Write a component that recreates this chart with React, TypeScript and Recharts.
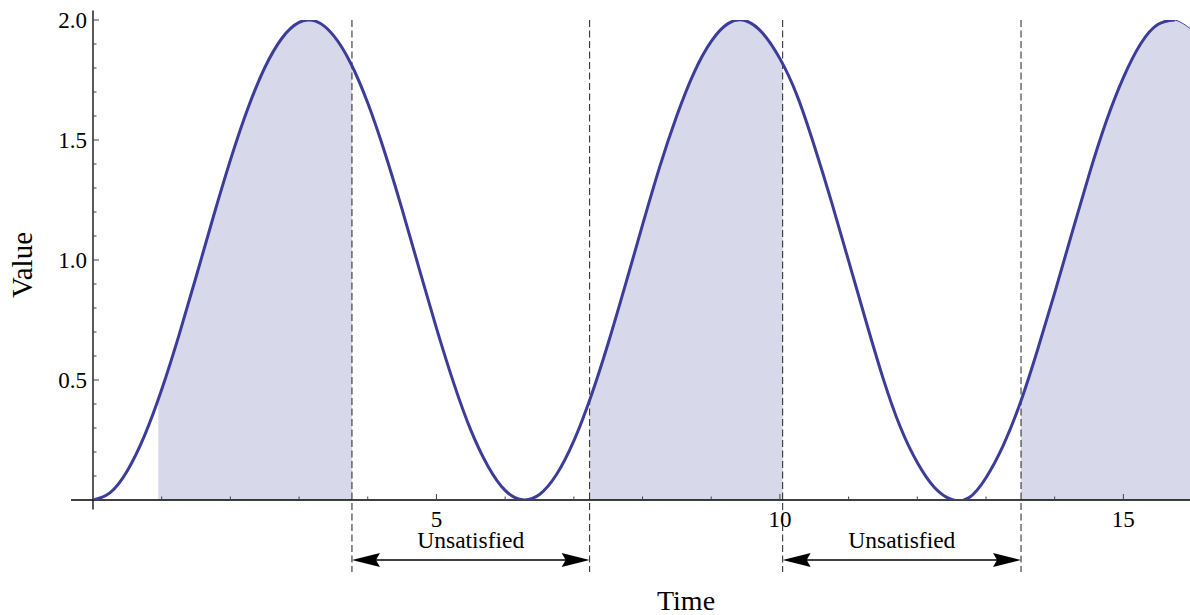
import { ComposedChart, Line, Area, XAxis, YAxis, ReferenceLine } from 'recharts'

const times = [
  0, 0.25, 0.5, 0.75, 0.95, 1, 1.25, 1.5, 1.75, 2, 2.25, 2.5, 2.75, 3, 3.25, 3.5, 3.75, 3.77,
  4, 4.25, 4.5, 4.75, 5, 5.25, 5.5, 5.75, 6, 6.25, 6.5, 6.75, 7, 7.23, 7.25, 7.5, 7.75,
  8, 8.25, 8.5, 8.75, 9, 9.25, 9.5, 9.75, 10, 10.04, 10.25, 10.5, 10.75, 11, 11.25, 11.5, 11.75,
  12, 12.25, 12.5, 12.75, 13, 13.25, 13.5, 13.51, 13.75, 14, 14.25, 14.5, 14.75, 15, 15.25, 15.5, 15.75, 16,
]
const values = [
  0, 0.031, 0.122, 0.268, 0.418, 0.46, 0.685, 0.929, 1.178, 1.416, 1.628, 1.801, 1.924, 1.99, 1.994, 1.936, 1.821, 1.81,
  1.654, 1.446, 1.211, 0.962, 0.716, 0.488, 0.291, 0.141, 0.04, 0.001, 0.023, 0.107, 0.246, 0.415, 0.432, 0.653, 0.896,
  1.146, 1.388, 1.602, 1.781, 1.911, 1.986, 1.997, 1.945, 1.839, 1.817, 1.685, 1.476, 1.243, 0.996, 0.748, 0.509, 0.306,
  0.156, 0.052, 0.002, 0.009, 0.093, 0.227, 0.405, 0.413, 0.625, 0.863, 1.111, 1.355, 1.577, 1.76, 1.9, 1.981, 2.0, 1.958,
]

const shadeStarts = [0.95, 7.23, 13.51]
const shadeEnds = [3.77, 10.04, 16]
const boundaries = [3.77, 7.23, 10.04, 13.51]
const unsatisfied = [[3.77, 7.23], [10.04, 13.51]]
const thickLineEnd = 15.75
const sampleStep = 0.25

const xTicks = [1, 2, 3, 4, 5, 6, 7, 8, 9, 10, 11, 12, 13, 14, 15]
const yTicks = [0.1, 0.2, 0.3, 0.4, 0.5, 0.6, 0.7, 0.8, 0.9, 1.0, 1.1, 1.2, 1.3, 1.4, 1.5, 1.6, 1.7, 1.8, 1.9, 2.0]

const data = times.map((t, i) => {
  const shaded = shadeStarts.some((s, k) => t >= s && t <= shadeEnds[k])
  const onGrid = Math.abs(t / sampleStep - Math.round(t / sampleStep)) < 1e-9
  return {
    t,
    line: onGrid && t <= thickLineEnd ? values[i] : null,
    fill: shaded ? values[i] : null,
  }
})

const FONT = '"Liberation Serif", "Times New Roman", serif'
const CURVE = '#3d3d99'

const XTick = ({ x, y, payload }: any) => {
  const major = payload.value % 5 === 0
  return (
    <g>
      <line x1={x} y1={y} x2={x} y2={y - (major ? 6 : 3.5)} stroke="#444" strokeWidth={1} />
      {major && (
        <text x={x} y={y + 27} textAnchor="middle" fontFamily={FONT} fontSize={23} fill="#000">
          {payload.value}
        </text>
      )}
    </g>
  )
}

const YTick = ({ x, y, payload }: any) => {
  const v = payload.value
  const major = Math.abs(v * 2 - Math.round(v * 2)) < 1e-6
  return (
    <g>
      <line x1={x} y1={y} x2={x + (major ? 6 : 3.5)} y2={y} stroke="#444" strokeWidth={1} />
      {major && (
        <text x={x - 6} y={y + 8} textAnchor="end" fontFamily={FONT} fontSize={23} fill="#000">
          {v.toFixed(1)}
        </text>
      )}
    </g>
  )
}

const DoubleArrow = ({ x1, y1, x2 }: any) => {
  const y = y1
  return (
    <g>
      <line x1={x1 + 20} y1={y} x2={x2 - 20} y2={y} stroke="#000" strokeWidth={1.5} />
      <polygon points={`${x1},${y} ${x1 + 28},${y - 7} ${x1 + 24},${y} ${x1 + 28},${y + 7}`} fill="#000" />
      <polygon points={`${x2},${y} ${x2 - 28},${y - 7} ${x2 - 24},${y} ${x2 - 28},${y + 7}`} fill="#000" />
      <text x={(x1 + x2) / 2} y={y - 12} textAnchor="middle" fontFamily={FONT} fontSize={23.5} fill="#000">
        Unsatisfied
      </text>
    </g>
  )
}

export default function App() {
  return (
    <div>
      <style>{'body{margin:0;background:#fff}'}</style>
      <ComposedChart width={1190} height={615} data={data} margin={{ top: 20, right: 0, left: 0, bottom: 85 }}>
        <XAxis dataKey="t" type="number" domain={[0, 15.97]} allowDataOverflow ticks={xTicks} interval={0}
          axisLine={false} tickLine={false} tickSize={0} tickMargin={0} height={30} tick={<XTick />}
          label={{
            content: ({ viewBox }: any) => (
              <text x={viewBox.x + viewBox.width * 0.5406} y={viewBox.y + 110} textAnchor="middle"
                fontFamily={FONT} fontSize={28} fill="#000">Time</text>
            ),
          }} />
        <YAxis type="number" domain={[0, 2]} allowDataOverflow ticks={yTicks} interval={0} width={93}
          axisLine={false} tickLine={false} tickSize={0} tickMargin={0} tick={<YTick />}
          label={{
            content: ({ viewBox }: any) => {
              const cx = viewBox.x + 22
              const cy = viewBox.y + viewBox.height / 2 + 5
              return (
                <text x={cx} y={cy} transform={`rotate(-90 ${cx} ${cy})`} textAnchor="middle"
                  dominantBaseline="central" fontFamily={FONT} fontSize={29} fill="#000">Value</text>
              )
            },
          }} />
        <Area type="natural" dataKey="fill" stroke={CURVE} strokeWidth={1} fill="#d8d8eb" fillOpacity={1}
          connectNulls={false} dot={false} activeDot={false} isAnimationActive={false} />
        {boundaries.map(b => (
          <ReferenceLine key={b} segment={[{ x: b, y: 2.0 }, { x: b, y: -0.3 }]} ifOverflow="visible"
            stroke="#222" strokeWidth={1} strokeDasharray="7 3.5" />
        ))}
        <ReferenceLine segment={[{ x: -0.32, y: 0 }, { x: 15.97, y: 0 }]} ifOverflow="visible" stroke="#000" strokeWidth={1.3} />
        <ReferenceLine segment={[{ x: 0, y: -0.04 }, { x: 0, y: 2.04 }]} ifOverflow="visible" stroke="#000" strokeWidth={1.3} />
        {unsatisfied.map(([a, b]) => (
          <ReferenceLine key={a} segment={[{ x: a, y: -0.25 }, { x: b, y: -0.25 }]} ifOverflow="visible"
            shape={(p: any) => <DoubleArrow {...p} />} />
        ))}
        <Line type="natural" dataKey="line" stroke={CURVE} strokeWidth={3} dot={false} activeDot={false}
          connectNulls isAnimationActive={false} />
      </ComposedChart>
    </div>
  )
}
